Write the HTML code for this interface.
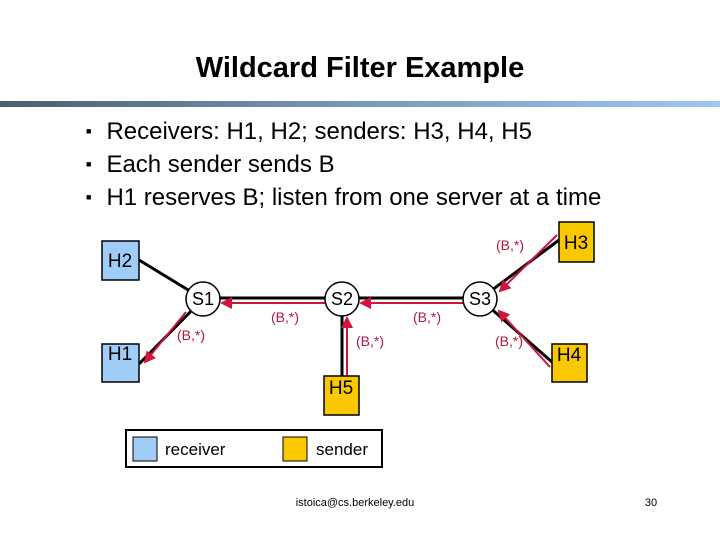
<!DOCTYPE html>
<html><head><style>
body{margin:0;width:720px;height:540px;background:#fff;position:relative;font-family:"Liberation Sans",Arial,sans-serif;overflow:hidden}
.t{position:absolute;white-space:nowrap}
</style></head><body>
<div class="t" style="left:0;width:720px;top:52px;text-align:center;font-size:29px;font-weight:bold">Wildcard Filter Example</div>
<div style="position:absolute;left:0;top:101px;width:720px;height:6px;background:linear-gradient(90deg,#4a5e70,#6f8fb0 40%,#9cc8f5)"></div>
<div class="t" style="left:86px;top:115px;font-size:24px;line-height:33px">
<span style="font-size:9px;vertical-align:5px">■</span><span style="margin-left:15px">Receivers: H1, H2; senders: H3, H4, H5</span><br>
<span style="font-size:9px;vertical-align:5px">■</span><span style="margin-left:15px">Each sender sends B</span><br>
<span style="font-size:9px;vertical-align:5px">■</span><span style="margin-left:15px">H1 reserves B; listen from one server at a time</span></div>
<svg width="720" height="540" style="position:absolute;left:0;top:0" font-family="Liberation Sans,Arial,sans-serif">
<defs><marker id="a" markerWidth="6" markerHeight="6" refX="5" refY="3" orient="auto"><path d="M0,0L6,3L0,6z" fill="#d0143c"/></marker></defs>
<g stroke="#000" stroke-width="3">
<line x1="139" y1="260" x2="203" y2="299"/><line x1="139" y1="364" x2="203" y2="299"/>
<line x1="203" y1="298" x2="342" y2="298"/><line x1="342" y1="298" x2="480" y2="298"/>
<line x1="342" y1="299" x2="342" y2="376"/>
<line x1="480" y1="299" x2="559" y2="240"/><line x1="480" y1="299" x2="552" y2="362"/>
</g>
<g stroke="#d0143c" stroke-width="2" marker-end="url(#a)">
<line x1="186" y1="312" x2="145" y2="362"/>
<line x1="325" y1="303" x2="222" y2="303"/>
<line x1="463" y1="303" x2="361" y2="303"/>
<line x1="347" y1="376" x2="347" y2="318"/>
<line x1="557" y1="235" x2="500" y2="291"/>
<line x1="550" y1="367" x2="499" y2="311"/>
</g>
<g fill="#fff" stroke="#000" stroke-width="1.5">
<circle cx="203" cy="299" r="17"/><circle cx="342" cy="299" r="17"/><circle cx="480" cy="299" r="17"/>
</g>
<g font-size="18" text-anchor="middle">
<text x="203" y="305">S1</text><text x="342" y="305">S2</text><text x="480" y="305">S3</text>
</g>
<g stroke="#000" stroke-width="1.5">
<rect x="102" y="241" width="37" height="39" fill="#9fcdf7"/>
<rect x="102" y="344" width="37" height="38" fill="#9fcdf7"/>
<rect x="559" y="222" width="35" height="40" fill="#f9c800"/>
<rect x="552" y="344" width="35" height="38" fill="#f9c800"/>
<rect x="324" y="376" width="35" height="39" fill="#f9c800"/>
</g>
<g font-size="19" text-anchor="middle">
<text x="120" y="267">H2</text><text x="120" y="360">H1</text><text x="576" y="249">H3</text><text x="569" y="361">H4</text><text x="341" y="394">H5</text>
</g>
<g font-size="14" fill="#b01840" text-anchor="middle">
<text x="191" y="340">(B,*)</text><text x="285" y="322">(B,*)</text><text x="427" y="322">(B,*)</text>
<text x="370" y="346">(B,*)</text><text x="510" y="250">(B,*)</text><text x="509" y="346">(B,*)</text>
</g>
<rect x="126" y="430" width="256" height="37" fill="#fff" stroke="#000" stroke-width="2"/>
<rect x="133" y="437" width="24" height="24" fill="#9fcdf7" stroke="#000"/>
<rect x="283" y="437" width="24" height="24" fill="#f9c800" stroke="#000"/>
<text x="165" y="455" font-size="17">receiver</text>
<text x="316" y="455" font-size="17">sender</text>
<text x="355" y="506" font-size="11" text-anchor="middle">istoica@cs.berkeley.edu</text>
<text x="651" y="506" font-size="11" text-anchor="middle">30</text>
</svg>
</body></html>
